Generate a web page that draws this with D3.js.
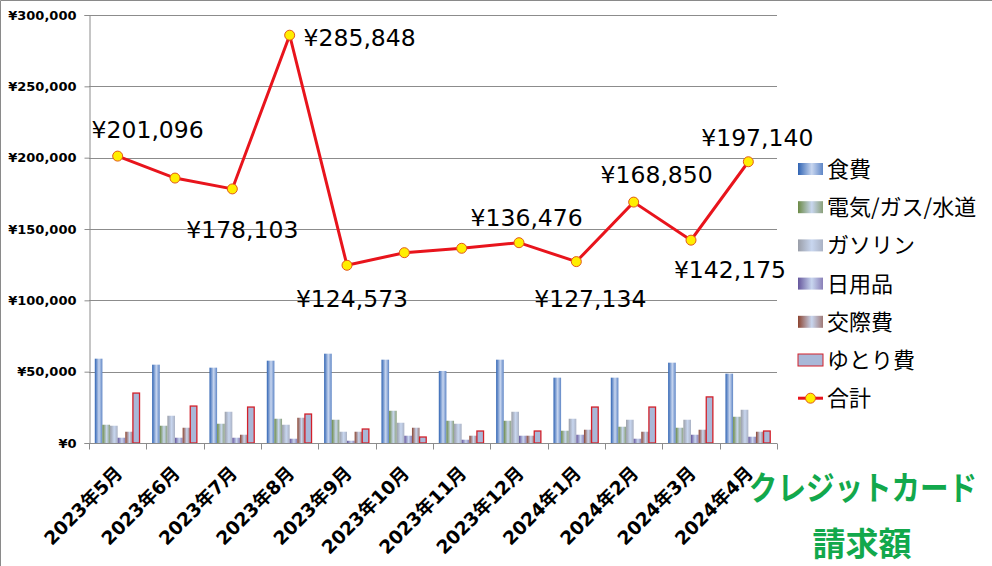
<!DOCTYPE html>
<html>
<head>
<meta charset="utf-8">
<script src="https://cdn.jsdelivr.net/npm/d3@7"></script>
<style>
  body { margin: 0; background: #fff; }
  svg { display: block; }
</style>
</head>
<body>
<svg id="chart" width="992" height="566"></svg>
<script>
// data
const months = ["2023年5月", "2023年6月", "2023年7月", "2023年8月", "2023年9月", "2023年10月",
  "2023年11月", "2023年12月", "2024年1月", "2024年2月", "2024年3月", "2024年4月"];
const seriesNames = ["食費", "電気/ガス/水道", "ガソリン", "日用品", "交際費", "ゆとり費"];
const food     = [59100, 54900, 52800, 57700, 62600, 58400, 50500, 58400, 45800, 45800, 56300, 48600];
const utility  = [12800, 12100, 13500, 17000, 16300, 22600, 15600, 15600, 8600, 11400, 10700, 18400];
const gasoline = [12100, 19100, 21900, 12800, 7900, 14200, 13500, 21900, 17000, 16300, 16300, 23300];
const daily    = [3700, 3700, 3700, 3000, 1600, 5100, 2300, 5100, 5800, 3000, 5800, 4400];
const social   = [7900, 10700, 5800, 17700, 7900, 10700, 5100, 5100, 9300, 7900, 9300, 7900];
const leisure  = [35000, 25900, 25200, 20300, 9800, 4200, 8400, 8400, 25200, 25200, 32300, 8400];
const total    = [201096, 185700, 178103, 285848, 124573, 133400, 136476, 140400, 127134, 168850, 142175, 197140];
const labelShown = [true, false, true, true, true, false, true, false, true, true, true, true];
const yTicks = [0, 50000, 100000, 150000, 200000, 250000, 300000];

const seriesValues = [food, utility, gasoline, daily, social, leisure];

// label placement (dx, dy from the point), hand-placed like the original
const labelOffsets = [[30, -18], null, [10, 49], [70, 11], [5, 42], null,
  [65, -22], null, [14, 45], [23, -19], [39, 38], [9, -16]];

const darkColors = ["#2f63b3", "#6b8a45", "#9a9ea8", "#65569c", "#8c4430"];
const lightColor = "#c8d6ef";
const midColors = ["#5f86c6", "#8aa07a", "#aab2c4", "#8a80b8", "#a07a78"];

const svg = d3.select("#chart");
const plotL = 89, plotR = 777, plotT = 15, plotB = 443;

const x = d3.scaleBand().domain(months).range([plotL, plotR]).padding(0);
const xs = d3.scaleBand().domain(d3.range(6)).range([0, x.bandwidth()]).paddingInner(0).paddingOuter(0.76);
const y = d3.scaleLinear().domain([0, 300000]).range([plotB, plotT]);

const fmt = v => "¥" + d3.format(",")(v);

// outer border (left and top edges visible)
svg.append("path").attr("d", "M0.5,566V0.5H992")
  .attr("fill", "none").attr("stroke", "#8a8a8a");

// gradients
const defs = svg.append("defs");
darkColors.forEach((c, i) => {
  const g = defs.append("linearGradient").attr("id", "grad" + i)
    .attr("x1", 0).attr("x2", 1).attr("y1", 0).attr("y2", 0);
  g.append("stop").attr("offset", "0%").attr("stop-color", c);
  g.append("stop").attr("offset", "55%").attr("stop-color", lightColor);
  g.append("stop").attr("offset", "100%").attr("stop-color", midColors[i]);
});

// gridlines
svg.append("g").selectAll("line").data(yTicks.slice(1)).join("line")
  .attr("x1", plotL).attr("x2", plotR)
  .attr("y1", d => Math.round(y(d)) + 0.5).attr("y2", d => Math.round(y(d)) + 0.5)
  .attr("stroke", "#8c8c8c").attr("stroke-width", 1);

// y axis
const yAxis = svg.append("g").attr("transform", `translate(${plotL + 0.5},0)`)
  .call(d3.axisLeft(y).tickValues(yTicks).tickFormat(fmt).tickSize(5).tickPadding(8));
yAxis.select(".domain").attr("stroke", "#8c8c8c");
yAxis.selectAll(".tick line").attr("stroke", "#8c8c8c");
yAxis.selectAll(".tick text").attr("font-family", "DejaVu Sans").attr("font-weight", "bold")
  .attr("font-size", 13).attr("fill", "#000");

// bars
seriesValues.forEach((vals, si) => {
  svg.append("g").selectAll("rect").data(vals).join("rect")
    .attr("x", (d, i) => x(months[i]) + xs(si))
    .attr("width", xs.bandwidth() - (si == 5 ? 1 : 0))
    .attr("y", d => y(d))
    .attr("height", d => plotB - y(d))
    .attr("fill", si == 5 ? "#a9b8d8" : `url(#grad${si})`)
    .attr("stroke", si == 5 ? "#d3202a" : "none")
    .attr("stroke-width", 1.3);
});

// x axis
const xAxis = svg.append("g").attr("transform", `translate(0,${plotB + 0.5})`);
xAxis.append("line").attr("x1", plotL).attr("x2", plotR).attr("stroke", "#8c8c8c");
xAxis.selectAll("line.tk").data(d3.range(months.length + 1)).join("line").attr("class", "tk")
  .attr("x1", i => Math.round(plotL + i * x.step()) + 0.5).attr("x2", i => Math.round(plotL + i * x.step()) + 0.5)
  .attr("y1", 0).attr("y2", 6).attr("stroke", "#8c8c8c");
xAxis.selectAll("text").data(months).join("text")
  .attr("transform", d => `translate(${x(d) + x.bandwidth() / 2 + 6},31) rotate(-45)`)
  .attr("text-anchor", "end")
  .attr("font-family", "DejaVu Sans, Noto Sans CJK JP").attr("font-weight", "bold")
  .attr("font-size", 18.5).attr("fill", "#000")
  .text(d => d);

// total line
const cx = i => x(months[i]) + x.bandwidth() / 2;
svg.append("path").datum(total)
  .attr("d", d3.line().x((d, i) => cx(i)).y(d => y(d)))
  .attr("fill", "none").attr("stroke", "#e8141c").attr("stroke-width", 3);
svg.append("g").selectAll("circle").data(total).join("circle")
  .attr("cx", (d, i) => cx(i)).attr("cy", d => y(d)).attr("r", 5)
  .attr("fill", "#ffee00").attr("stroke", "#e2581a").attr("stroke-width", 1);

svg.append("g").selectAll("text").data(d3.range(total.length).filter(i => labelShown[i]))
  .join("text")
  .attr("x", i => cx(i) + labelOffsets[i][0])
  .attr("y", i => y(total[i]) + labelOffsets[i][1])
  .attr("text-anchor", "middle")
  .attr("font-family", "DejaVu Sans").attr("font-size", 23.5).attr("fill", "#000")
  .text(i => fmt(total[i]));

// legend
const legend = svg.append("g").attr("transform", "translate(798,169)");
const legendNames = seriesNames.concat(["合計"]);
legendNames.forEach((name, i) => {
  const g = legend.append("g").attr("transform", `translate(0,${i * 38.2})`);
  if (i < 6) {
    g.append("rect").attr("x", 0).attr("y", -6).attr("width", 25).attr("height", 12)
      .attr("fill", i == 5 ? "#a9b8d8" : `url(#grad${i})`)
      .attr("stroke", i == 5 ? "#d3202a" : "none");
  } else {
    g.append("line").attr("x1", 0).attr("x2", 25).attr("stroke", "#e8141c").attr("stroke-width", 3);
    g.append("circle").attr("cx", 12.5).attr("r", 5).attr("fill", "#ffee00").attr("stroke", "#e2581a");
  }
  g.append("text").attr("x", 29).attr("y", 8)
    .attr("font-family", "Noto Sans CJK JP").attr("font-size", 22).attr("fill", "#000")
    .text(name);
});

// title (katakana line squeezed horizontally like the original's narrow kana)
svg.append("text").attr("transform", "translate(863,500) scale(0.865,1)").attr("text-anchor", "middle")
  .attr("font-family", "Noto Sans CJK JP").attr("font-weight", "bold").attr("font-size", 33)
  .attr("fill", "#12a84c").text("クレジットカード");
svg.append("text").attr("x", 862).attr("y", 556).attr("text-anchor", "middle")
  .attr("font-family", "Noto Sans CJK JP").attr("font-weight", "bold").attr("font-size", 33)
  .attr("fill", "#12a84c").text("請求額");
</script>
</body>
</html>
